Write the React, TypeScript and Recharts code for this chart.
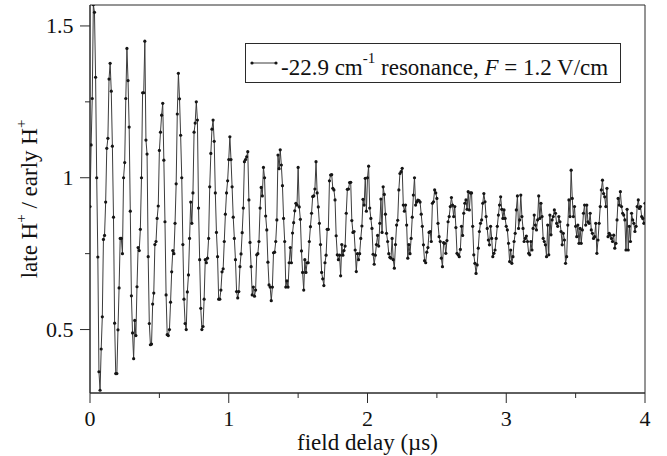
import { LineChart, Line, XAxis, YAxis, ReferenceArea, Legend } from 'recharts';

// late H+ / early H+, one value per ~8 ns step of field delay (0 to 4 µs)
const ratio1 = [
  0.905, 1.108, 1.261, 1.57, 1.545, 1.331, 1.0, 0.739, 0.361, 0.3,
  0.436, 0.542, 0.797, 0.81, 0.92, 1.097, 1.13, 1.325, 1.377, 1.285,
  1.104, 0.87, 0.521, 0.355, 0.355, 0.499, 0.637, 0.8, 0.8, 0.75,
  1.0, 1.05, 1.261, 1.426, 1.32, 1.167, 0.89, 0.611, 0.489, 0.404,
  0.53, 0.48, 0.641, 0.77, 0.76, 0.83, 1.0, 1.28, 1.28, 1.45,
  1.124, 1.078, 0.74, 0.52, 0.45, 0.452, 0.584, 0.62, 0.78, 0.79,
  0.866, 0.907, 1.09, 1.15, 1.206, 1.245, 1.058, 0.855, 0.614,
]; // 0 - 0.55 µs

const ratio2 = [
  0.483, 0.48, 0.5, 0.59, 0.69, 0.76, 0.75, 0.85, 0.98, 1.21,
  1.344, 1.26, 1.14, 1.0, 0.78, 0.6, 0.52, 0.5, 0.624, 0.68,
  0.8, 0.92, 0.85, 0.95, 1.15, 1.18, 1.25, 1.19, 0.9, 0.73,
  0.57, 0.5, 0.51, 0.6, 0.73, 0.72, 0.735, 0.8, 0.97, 1.08,
  1.16, 1.19, 1.12, 0.95, 0.82, 0.74, 0.6, 0.6, 0.63, 0.69,
  0.7, 0.79, 0.88, 0.95, 0.99, 1.06, 1.135, 1.06, 0.97, 0.87,
  0.8,
]; // 0.56 - 1.04 µs

const ratio3 = [
  0.73, 0.625, 0.604, 0.625, 0.707, 0.749, 0.819, 0.9, 1.053, 1.06,
  1.069, 1.086, 0.927, 0.787, 0.707, 0.614, 0.64, 0.61, 0.63, 0.746,
  0.75, 0.79, 0.9, 0.968, 0.94, 1.034, 1.0, 0.874, 0.828, 0.722,
  0.647, 0.64, 0.595, 0.64, 0.753, 0.755, 0.79, 0.861, 1.075, 1.03,
  1.092, 1.042, 0.974, 0.866, 0.79, 0.64, 0.66, 0.64, 0.72, 0.77,
  0.72, 0.818, 0.852, 0.891, 0.916, 0.91, 1.034, 0.904, 0.863, 0.759,
  0.688, 0.63, 0.73, 0.688, 0.72, 0.72, 0.79, 0.839, 0.883, 0.938,
  0.94, 0.963, 1.053, 0.95, 0.904, 0.85, 0.78, 0.688, 0.667, 0.645,
  0.72,
]; // 1.05 - 1.69 µs

const ratio4 = [
  0.745, 0.83, 0.83, 0.99, 1.009, 1.01, 0.965, 0.96, 0.927, 0.809,
  0.746, 0.73, 0.745, 0.677, 0.78, 0.745, 0.76, 0.775, 0.883, 0.962,
  0.963, 0.984, 0.985, 0.859, 0.82, 0.823, 0.762, 0.691, 0.75, 0.73,
  0.75, 0.8, 0.841, 0.929, 0.91, 0.998, 0.89, 1.0, 1.038, 0.9,
  0.866, 0.833, 0.748, 0.715, 0.745, 0.78, 0.81, 0.775, 0.85, 0.93,
  0.82, 0.97, 0.945, 0.88, 0.817, 0.79, 0.75, 0.738, 0.735, 0.8,
  0.73, 0.702, 0.78, 0.844, 0.86, 0.96, 1.014, 1.02, 1.031, 0.91,
  0.89, 0.91, 0.844, 0.735, 0.78, 0.75, 0.8, 0.87, 0.943, 1.0,
  0.91, 0.92, 0.926, 0.925, 0.92, 0.88, 0.84, 0.779, 0.727, 0.72,
  0.755, 0.77, 0.82,
]; // 1.70 - 2.44 µs

const ratio5 = [
  0.823, 0.79, 0.916, 0.921, 0.96, 0.95, 0.932, 0.85, 0.806, 0.79,
  0.735, 0.707, 0.786, 0.784, 0.751, 0.793, 0.855, 0.872, 0.905, 0.935,
  0.91, 0.872, 0.905, 0.836, 0.751, 0.746, 0.74, 0.764, 0.84, 0.81,
  0.883, 0.916, 0.927, 0.896, 0.954, 0.894, 0.95, 0.95, 0.84, 0.746,
  0.718, 0.685, 0.713, 0.768, 0.823, 0.85, 0.861, 0.916, 0.948, 0.921,
  0.872, 0.833, 0.795, 0.779, 0.84, 0.8, 0.74, 0.751, 0.762, 0.8,
  0.84, 0.877, 0.91, 0.937, 0.896, 0.866, 0.894, 0.866, 0.84, 0.828,
  0.784, 0.724, 0.762, 0.718, 0.74, 0.79, 0.817, 0.894, 0.94, 0.833,
  0.861, 0.943, 0.872, 0.833, 0.79, 0.8, 0.808, 0.79, 0.751, 0.746,
  0.79, 0.762, 0.833, 0.877, 0.844,
]; // 2.45 - 3.21 µs

const ratio6 = [
  0.828, 0.861, 0.94, 0.866, 0.916, 0.872, 0.8, 0.79, 0.779, 0.74,
  0.844, 0.746, 0.877, 0.812, 0.861, 0.872, 0.894, 0.883, 0.85, 0.84,
  0.872, 0.855, 0.823, 0.779, 0.817, 0.795, 0.718, 0.74, 0.844, 0.927,
  0.872, 1.025, 0.932, 0.872, 0.905, 0.84, 0.806, 0.844, 0.784, 0.833,
  0.784, 0.828, 0.883, 0.91, 0.844, 0.91, 0.855, 0.85, 0.883, 0.828,
  0.817, 0.8, 0.806, 0.85, 0.751, 0.795, 0.85, 0.905, 0.96, 0.992,
  0.948, 0.937, 0.905, 0.965, 0.806, 0.817, 0.811, 0.8, 0.79, 0.811,
  0.768, 0.784, 0.861, 0.932, 0.91, 0.954, 0.905, 0.883, 0.877, 0.861,
  0.762, 0.896, 0.762, 0.84, 0.79, 0.883, 0.861, 0.85, 0.823, 0.84,
  0.905, 0.927, 0.899, 0.905, 0.872, 0.866, 0.85, 0.916,
]; // 3.22 - 4.00 µs

const ratio = [...ratio1, ...ratio2, ...ratio3, ...ratio4, ...ratio5, ...ratio6];
const delayStep = 4 / (ratio.length - 1);
const data = ratio.map((v, i) => ({ delay: i * delayStep, ratio: v }));

const xTicks = [0, 0.5, 1, 1.5, 2, 2.5, 3, 3.5, 4];
const xLabels = [0, 1, 2, 3, 4];
const yTicks = [0.5, 0.75, 1, 1.25, 1.5];
const yLabels = [0.5, 1, 1.5];
const yDomain = [0.291, 1.569];

const FONT = '"Liberation Serif", "DejaVu Serif", serif';
const AXIS = '#2a2a2a';
const INK = '#111';
const TRACE = '#3c3c3c';
const DOT = '#151515';

const XTick = (props: any) => {
  const { x, y, payload } = props;
  const major = xLabels.includes(payload.value);
  return (
    <g>
      <line x1={x} x2={x} y1={y} y2={y + (major ? 10 : 5)} stroke={AXIS} />
      {major && (
        <text x={x} y={y + 33} textAnchor="middle" fontSize={22} fontFamily={FONT} fill={INK}>
          {payload.value}
        </text>
      )}
    </g>
  );
};

const YTick = (props: any) => {
  const { x, y, payload } = props;
  const major = yLabels.includes(payload.value);
  return (
    <g>
      <line x1={x - (major ? 10 : 5)} x2={x} y1={y} y2={y} stroke={AXIS} />
      {major && (
        <text x={x - 16.5} y={y + 7.5} textAnchor="end" fontSize={22} fontFamily={FONT} fill={INK}>
          {payload.value}
        </text>
      )}
    </g>
  );
};

const XTitle = (props: any) => {
  const vb = props.viewBox || { x: 90, y: 393, width: 555, height: 63 };
  return (
    <text x={vb.x + vb.width / 2} y={vb.y + 57} textAnchor="middle" fontSize={23} fontFamily={FONT} fill={INK}>
      field delay (µs)
    </text>
  );
};

const YTitle = (props: any) => {
  const vb = props.viewBox || { x: 0, y: 5, width: 90, height: 388 };
  const cx = vb.x + 36.5;
  const cy = vb.y + vb.height / 2;
  return (
    <text
      x={cx}
      y={cy}
      transform={`rotate(-90 ${cx} ${cy})`}
      textAnchor="middle"
      fontSize={23}
      fontFamily={FONT}
      fill={INK}
    >
      late H
      <tspan dy={-11} fontSize={15}>+</tspan>
      <tspan dy={11}>{' / early H'}</tspan>
      <tspan dy={-11} fontSize={15}>+</tspan>
    </text>
  );
};

const LegendBox = () => (
  <svg width={376} height={40} style={{ display: 'block' }}>
    <rect x={0.5} y={0.5} width={375} height={39} fill="#fff" stroke={AXIS} />
    <line x1={7} x2={31} y1={20} y2={20} stroke={TRACE} />
    <circle cx={7} cy={20} r={1.6} fill={DOT} />
    <circle cx={31} cy={20} r={1.6} fill={DOT} />
    <text x={36} y={31.5} fontSize={23} fontFamily={FONT} fill={INK}>
      -22.9 cm
      <tspan dy={-12} fontSize={15}>-1</tspan>
      <tspan dy={12}>{' resonance, '}</tspan>
      <tspan fontStyle="italic">F</tspan>
      <tspan>{' = 1.2 V/cm'}</tspan>
    </text>
  </svg>
);

export default function App() {
  return (
    <div style={{ position: 'absolute', left: 0, top: 0, background: '#fff' }}>
      <LineChart width={667} height={456} data={data} margin={{ top: 5, right: 22, bottom: 0, left: 0 }}>
        <XAxis
          type="number"
          dataKey="delay"
          domain={[0, 4]}
          ticks={xTicks}
          interval={0}
          tick={XTick}
          tickLine={false}
          tickSize={0}
          tickMargin={0}
          height={63}
          stroke={AXIS}
          allowDataOverflow
          label={XTitle}
        />
        <YAxis
          type="number"
          domain={yDomain}
          ticks={yTicks}
          interval={0}
          tick={YTick}
          tickLine={false}
          tickSize={0}
          tickMargin={0}
          width={90}
          stroke={AXIS}
          allowDataOverflow
          label={YTitle}
        />
        <ReferenceArea x1={0} x2={4} y1={yDomain[0]} y2={yDomain[1]} fill="none" stroke={AXIS} strokeOpacity={1} />
        <Legend
          layout="horizontal"
          verticalAlign="middle"
          align="center"
          wrapperStyle={{ position: 'absolute', left: 245, top: 43, width: 376, height: 40 }}
          content={() => <LegendBox />}
        />
        <Line
          type="linear"
          dataKey="ratio"
          stroke={TRACE}
          strokeWidth={1}
          dot={{ r: 1.6, fill: DOT, stroke: 'none', strokeWidth: 0 }}
          activeDot={false}
          isAnimationActive={false}
        />
      </LineChart>
    </div>
  );
}
